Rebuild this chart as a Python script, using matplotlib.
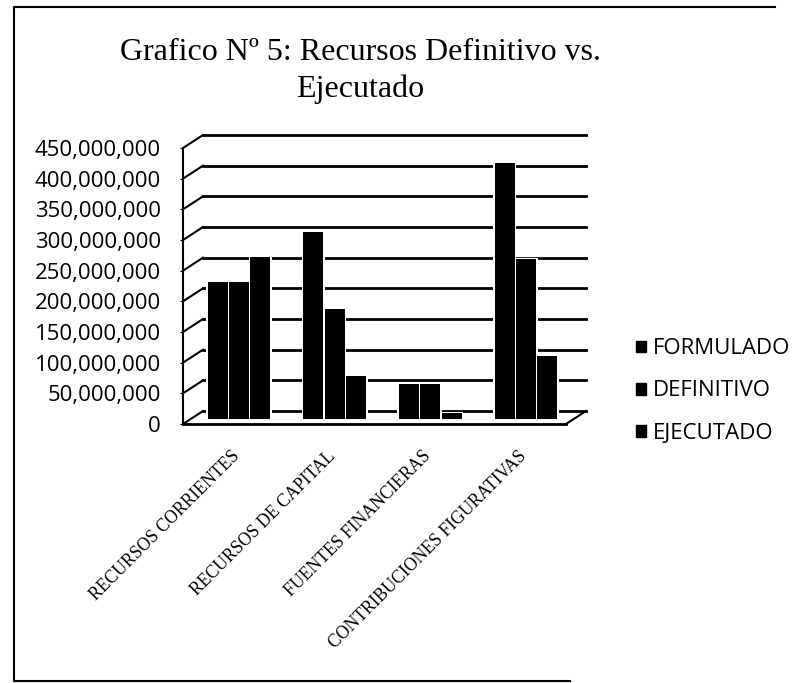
import matplotlib
matplotlib.use("Agg")
import matplotlib.pyplot as plt
import numpy as np
from matplotlib.lines import Line2D
from matplotlib.transforms import Affine2D

categories = ["RECURSOS CORRIENTES", "RECURSOS DE CAPITAL",
              "FUENTES FINANCIERAS", "CONTRIBUCIONES FIGURATIVAS"]
formulado = [223e6, 305e6, 57e6, 418e6]
definitivo = [223e6, 179e6, 57e6, 261e6]
ejecutado = [264e6, 70e6, 10e6, 103e6]
y_ticks = [0, 50e6, 100e6, 150e6, 200e6, 250e6, 300e6, 350e6, 400e6, 450e6]

W, H = 800, 683
DEPTH_X, DEPTH_Y = 20, 13


def fx(px):
    return px / W


def fy(py):
    return 1 - py / H


fig = plt.figure(figsize=(W / 100, H / 100), dpi=100)
ax = fig.add_axes([fx(183), fy(424), (566 - 183) / W, (424 - 148) / H])
ax.set_xlim(-0.5, 3.5)
ax.set_ylim(0, 450e6)

# pseudo 3D: back wall and bars are the front plane shifted in pixels
back = ax.transData + Affine2D().translate(DEPTH_X, DEPTH_Y)
mid = ax.transData + Affine2D().translate(8, 5)

for v in y_ticks:
    ax.plot([-0.5, 3.5], [v, v], color="black", lw=2, transform=back,
            clip_on=False, zorder=1)
    p0 = ax.transData.transform((-0.5, v))
    fig.add_artist(Line2D([p0[0] / W, (p0[0] + DEPTH_X) / W],
                          [p0[1] / H, (p0[1] + DEPTH_Y) / H],
                          color="black", lw=1.5, zorder=1))

# floor, right hand edge
p1 = ax.transData.transform((3.5, 0))
fig.add_artist(Line2D([p1[0] / W, (p1[0] + DEPTH_X) / W],
                      [p1[1] / H, (p1[1] + DEPTH_Y) / H],
                      color="black", lw=1.5, zorder=1))

x = np.arange(len(categories))
w = 0.222
for off, vals, name in [(-w, formulado, "FORMULADO"),
                        (0, definitivo, "DEFINITIVO"),
                        (w, ejecutado, "EJECUTADO")]:
    ax.bar(x + off, vals, width=w, color="black", edgecolor="white", linewidth=1.5,
           transform=mid, clip_on=False, zorder=3, label=name)
    ax.bar(x + off, vals, width=w * 0.94, color="black", transform=mid,
           clip_on=False, zorder=4)

for s in ["top", "right"]:
    ax.spines[s].set_visible(False)
ax.spines["left"].set_linewidth(1.5)
ax.spines["bottom"].set_linewidth(2)
ax.patch.set_alpha(0)

ax.set_yticks(y_ticks)
ax.set_yticklabels([f"{int(v):,}" for v in y_ticks], family="Open Sans", fontsize=16)
ax.tick_params(axis="y", length=2, pad=14)
ax.set_xticks(x)
ax.set_xticklabels(categories, rotation=45, ha="right", rotation_mode="anchor",
                   family="Liberation Serif", fontsize=12.7)
ax.tick_params(axis="x", length=0, pad=17)

handles, labels = ax.get_legend_handles_labels()
handles = [plt.Rectangle((0, 0), 1, 1, color="black") for _ in labels]
fig.legend(handles, labels, loc="center left", bbox_to_anchor=(fx(616), fy(391)),
           frameon=False, prop={"family": "Open Sans", "size": 16},
           handlelength=0.45, handleheight=0.45, handletextpad=0.3, labelspacing=0.95)

fig.text(fx(360), fy(71), "Grafico Nº 5: Recursos Definitivo vs.\nEjecutado",
         family="Liberation Serif", fontsize=23, ha="center", va="center", linespacing=1.35)

# scanned page frame
fig.add_artist(Line2D([fx(775), fx(14), fx(14), fx(570)],
                      [fy(7), fy(7), fy(681), fy(681)], color="black", lw=1.5))

fig.savefig("out.png", dpi=100)
plt.close(fig)
